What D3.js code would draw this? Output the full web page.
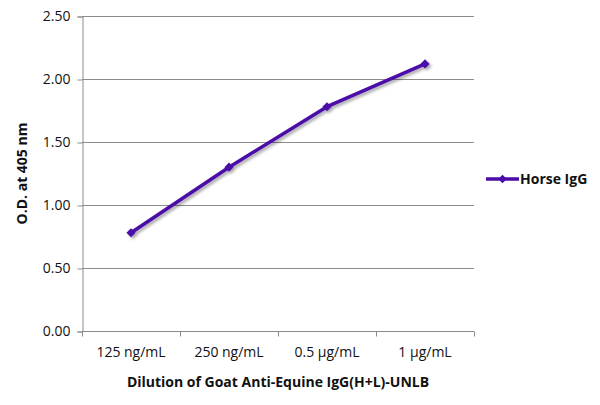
<!DOCTYPE html>
<html lang="en">
<head>
<meta charset="UTF-8" />
<title>Horse IgG</title>
<script src="https://cdn.jsdelivr.net/npm/d3@7/dist/d3.min.js"></script>
<style>
  body { margin: 0; background: #fff; }
  svg text { font-family: "Open Sans", "Noto Sans", sans-serif; fill: #111; }
</style>
</head>
<body>
<script>
  const categories = ['125 ng/mL', '250 ng/mL', '0.5 µg/mL', '1 µg/mL'];
  const horseIgG = [0.78, 1.30, 1.78, 2.12];
  const yTicks = [0, 0.5, 1.0, 1.5, 2.0, 2.5];
  const seriesName = 'Horse IgG';
  const xTitle = 'Dilution of Goat Anti-Equine IgG(H+L)-UNLB';
  const yTitle = 'O.D. at 405 nm';

  const width = 600, height = 405;
  const margin = { left: 82, top: 16, right: 126, bottom: 74 };
  const color = '#4b0ca8';

  const svg = d3.select('body').append('svg')
    .attr('width', width)
    .attr('height', height);

  const defs = svg.append('defs');
  const shadow = defs.append('filter').attr('id', 'shadow')
    .attr('x', '-20%').attr('y', '-20%').attr('width', '140%').attr('height', '140%');
  shadow.append('feDropShadow')
    .attr('dx', 2).attr('dy', 2).attr('stdDeviation', 1.5)
    .attr('flood-color', '#000').attr('flood-opacity', 0.35);

  const x = d3.scaleBand()
    .domain(categories)
    .range([margin.left, width - margin.right]);

  const y = d3.scaleLinear()
    .domain([0, 2.5])
    .range([height - margin.bottom, margin.top]);

  // grid
  svg.append('g')
    .selectAll('line')
    .data(yTicks.slice(1))
    .join('line')
    .attr('x1', margin.left)
    .attr('x2', width - margin.right)
    .attr('y1', d => y(d) + 0.5)
    .attr('y2', d => y(d) + 0.5)
    .attr('stroke', '#8c8c8c')
    .attr('stroke-width', 1);

  // y axis
  const yAxis = svg.append('g')
    .attr('transform', `translate(${margin.left + 0.5},0.5)`)
    .call(d3.axisLeft(y).tickValues(yTicks).tickFormat(d3.format('.2f')).tickSize(5).tickPadding(7));
  yAxis.selectAll('line, path').attr('stroke', '#8c8c8c');
  yAxis.selectAll('text').attr('font-size', 14).attr('fill', '#111');

  // x axis
  const boundaries = categories.map(c => x(c)).concat([x.range()[1]]);
  const xAxisG = svg.append('g')
    .attr('transform', `translate(0,${y(0) + 0.5})`);
  xAxisG.append('line')
    .attr('x1', margin.left).attr('x2', width - margin.right)
    .attr('stroke', '#8c8c8c');
  xAxisG.selectAll('.tk')
    .data(boundaries)
    .join('line')
    .attr('class', 'tk')
    .attr('x1', d => d + 0.5).attr('x2', d => d + 0.5)
    .attr('y1', 0).attr('y2', 5)
    .attr('stroke', '#8c8c8c');
  xAxisG.selectAll('text')
    .data(categories)
    .join('text')
    .attr('x', d => x(d) + x.bandwidth() / 2)
    .attr('y', 25)
    .attr('text-anchor', 'middle')
    .attr('font-size', 14)
    .text(d => d);

  // titles
  svg.append('text')
    .attr('x', (margin.left + width - margin.right) / 2)
    .attr('y', 387)
    .attr('text-anchor', 'middle')
    .attr('font-size', 14)
    .attr('font-weight', 'bold')
    .text(xTitle);

  svg.append('text')
    .attr('transform', `translate(27,${(y(0) + y(2.5)) / 2}) rotate(-90)`)
    .attr('text-anchor', 'middle')
    .attr('font-size', 14)
    .attr('font-weight', 'bold')
    .text(yTitle);

  // series
  const pts = categories.map((c, i) => ({ c, v: horseIgG[i] }));
  const diamond = d3.symbol().type(d3.symbolSquare).size(42);

  const series = svg.append('g').attr('filter', 'url(#shadow)');
  series.append('path')
    .datum(pts)
    .attr('fill', 'none')
    .attr('stroke', color)
    .attr('stroke-width', 3.5)
    .attr('stroke-linejoin', 'round')
    .attr('d', d3.line().x(d => x(d.c) + x.bandwidth() / 2).y(d => y(d.v)));
  series.selectAll('.pt')
    .data(pts)
    .join('path')
    .attr('class', 'pt')
    .attr('transform', d => `translate(${x(d.c) + x.bandwidth() / 2},${y(d.v)}) rotate(45)`)
    .attr('d', diamond)
    .attr('fill', color);

  // legend
  const lg = svg.append('g').attr('transform', 'translate(486,179)');
  lg.append('line')
    .attr('x1', 0).attr('x2', 33)
    .attr('stroke', color).attr('stroke-width', 3.5);
  lg.append('path')
    .attr('transform', 'translate(16.5,0) rotate(45)')
    .attr('d', d3.symbol().type(d3.symbolSquare).size(36))
    .attr('fill', color);
  lg.append('text')
    .attr('x', 34)
    .attr('y', 0)
    .attr('dy', '0.35em')
    .attr('font-size', 14)
    .attr('font-weight', 'bold')
    .text(seriesName);
</script>
</body>
</html>
